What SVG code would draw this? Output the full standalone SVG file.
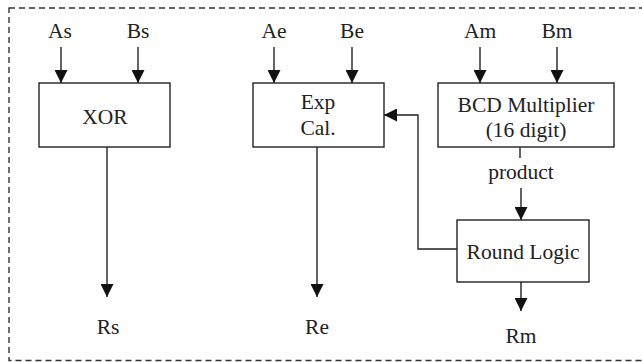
<svg xmlns="http://www.w3.org/2000/svg" width="642" height="362" viewBox="0 0 642 362">
<style>
.box{fill:#fff;stroke:#222;stroke-width:1.4}
.ln{fill:none;stroke:#222;stroke-width:1.4}
.t{font-family:"Liberation Serif","Times New Roman",serif;font-size:21.5px;fill:#222;text-anchor:middle}
</style>
<defs>
<marker id="ah" markerUnits="userSpaceOnUse" markerWidth="13" markerHeight="13" viewBox="0 0 13 13" refX="13" refY="6.5" orient="auto">
<path d="M0,0 L13,6.5 L0,13 Z" fill="#111"/>
</marker>
</defs>
<rect x="9" y="8" width="640" height="352.5" fill="none" stroke="#333" stroke-width="1.4" stroke-dasharray="6,4"/>
<g id="connectors">
<line class="ln" x1="61" y1="47" x2="61" y2="83" marker-end="url(#ah)"/>
<line class="ln" x1="138" y1="47" x2="138" y2="83" marker-end="url(#ah)"/>
<line class="ln" x1="107" y1="147" x2="107" y2="297" marker-end="url(#ah)"/>
<line class="ln" x1="274" y1="47" x2="274" y2="83" marker-end="url(#ah)"/>
<line class="ln" x1="352" y1="47" x2="352" y2="83" marker-end="url(#ah)"/>
<line class="ln" x1="317" y1="147" x2="317" y2="297" marker-end="url(#ah)"/>
<line class="ln" x1="480" y1="47" x2="480" y2="83" marker-end="url(#ah)"/>
<line class="ln" x1="557" y1="47" x2="557" y2="83" marker-end="url(#ah)"/>
<line class="ln" x1="520" y1="147" x2="520" y2="158"/>
<line class="ln" x1="521" y1="188" x2="521" y2="220" marker-end="url(#ah)"/>
<line class="ln" x1="521" y1="282" x2="521" y2="311" marker-end="url(#ah)"/>
<polyline class="ln" points="457,249 418,249 418,115 384,115" marker-end="url(#ah)"/>
</g>
<g id="xor">
<rect class="box" x="39" y="83" width="131" height="64"/>
<text class="t" x="105" y="124">XOR</text>
</g>
<g id="exp">
<rect class="box" x="253" y="83" width="131" height="64"/>
<text class="t" x="318" y="109">Exp</text>
<text class="t" x="318" y="135">Cal.</text>
</g>
<g id="bcd">
<rect class="box" x="438" y="83" width="176" height="64"/>
<text class="t" x="526" y="112">BCD Multiplier</text>
<text class="t" x="526" y="137">(16 digit)</text>
</g>
<g id="round">
<rect class="box" x="457" y="220" width="132" height="62"/>
<text class="t" x="523" y="259">Round Logic</text>
</g>
<g id="labels">
<text class="t" x="60" y="38">As</text>
<text class="t" x="138" y="38">Bs</text>
<text class="t" x="274" y="38">Ae</text>
<text class="t" x="352" y="38">Be</text>
<text class="t" x="480" y="38">Am</text>
<text class="t" x="557" y="38">Bm</text>
<text class="t" x="521" y="179">product</text>
<text class="t" x="108" y="334">Rs</text>
<text class="t" x="317" y="334">Re</text>
<text class="t" x="521" y="343">Rm</text>
</g>
</svg>
